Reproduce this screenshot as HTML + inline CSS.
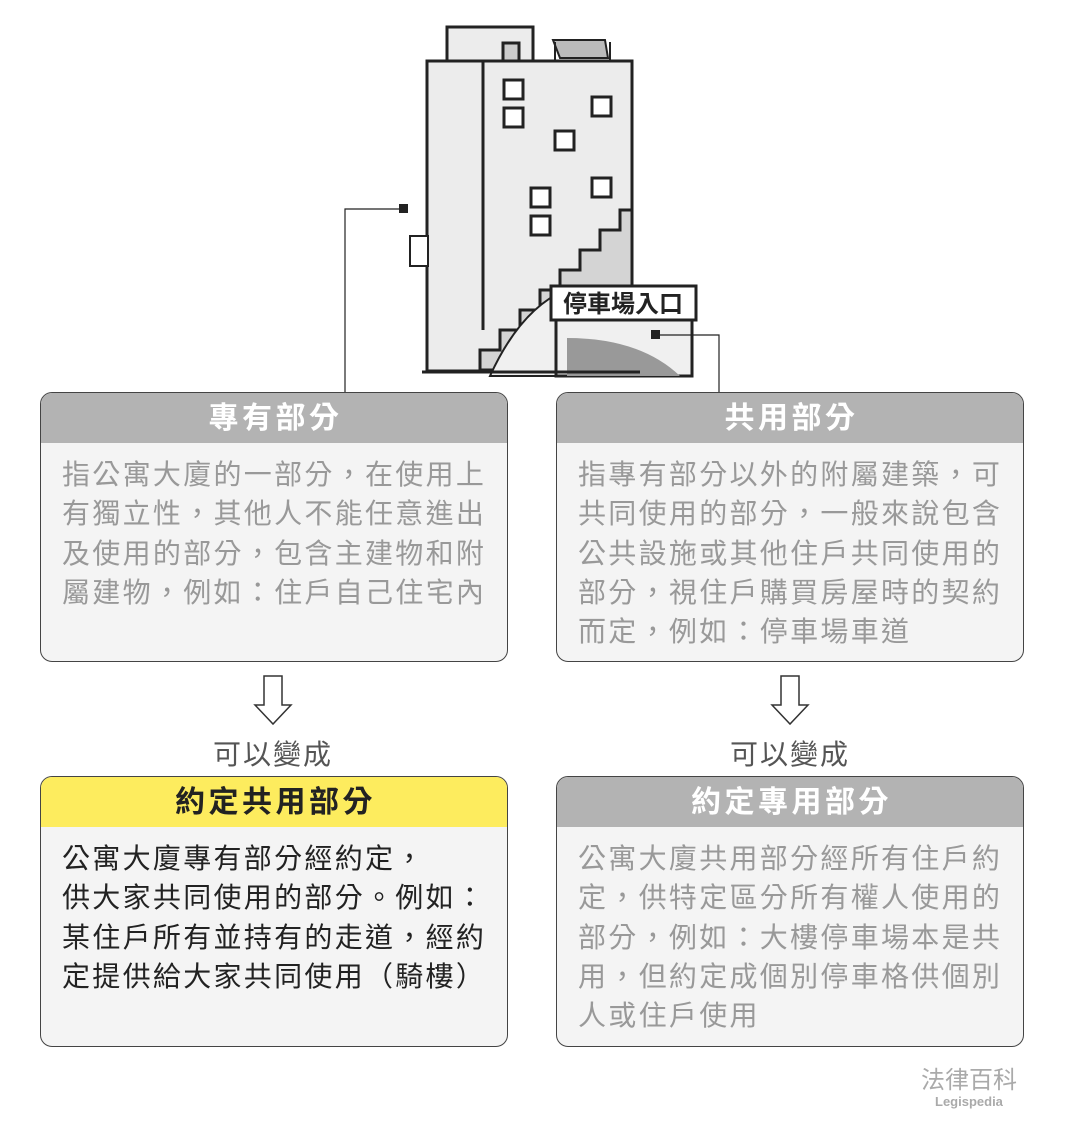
<!DOCTYPE html>
<html><head><meta charset="utf-8"><style>
body{margin:0;width:1065px;height:1125px;background:#fff;position:relative;font-family:"Liberation Sans","Noto Sans CJK TC",sans-serif;overflow:hidden}
.box{position:absolute;width:468px;background:#f4f4f4;border:1.5px solid #444;border-radius:12px;overflow:hidden;box-sizing:border-box}
.hd{height:50px;background:#b3b3b3;color:#fff;font-weight:bold;font-size:30px;letter-spacing:3.5px;text-indent:3px;text-align:center;line-height:52px}
.hd.y{background:#fdec5e;color:#222}
.tx{padding:12px 0 0 21px;font-size:28px;line-height:39.3px;color:#999;letter-spacing:2.3px;white-space:nowrap}
.tx.d{color:#222}
.lbl{position:absolute;font-size:28px;color:#555;letter-spacing:2px}
</style></head><body>
<svg width="1065" height="1125" style="position:absolute;left:0;top:0">
<g stroke="#222" stroke-width="3" fill="#ececec">
<rect x="447" y="27" width="86" height="34"/>
<rect x="503" y="43" width="16" height="18" fill="#ccc"/>
<rect x="427" y="61" width="205" height="310"/>
<line x1="483" y1="61" x2="483" y2="330"/>
<rect x="410" y="236" width="18" height="30" fill="#fff" stroke-width="2"/>
</g>
<path d="M553 40 L605 40 L608 58 L560 58 Z" fill="#bbb" stroke="#222" stroke-width="2"/>
<line x1="555" y1="42" x2="555" y2="61" stroke="#222" stroke-width="2"/>
<line x1="610" y1="42" x2="610" y2="61" stroke="#222" stroke-width="2"/>
<path d="M632 210 L620 210 L620 230 L600 230 L600 250 L580 250 L580 270 L560 270 L560 290 L540 290 L540 310 L520 310 L520 330 L500 330 L500 350 L480 350 L480 370 L632 370 Z" fill="#d4d4d4" stroke="#222" stroke-width="3"/>
<path d="M490 376 Q520 310 565 290 L690 300 L690 376 Z" fill="#f0f0f0" stroke="#222" stroke-width="2"/>
<rect x="556" y="318" width="136" height="58" fill="#f0f0f0" stroke="#222" stroke-width="3"/>
<path d="M567 376 L567 338 Q640 338 680 376 Z" fill="#999"/>
<line x1="422" y1="372" x2="640" y2="372" stroke="#222" stroke-width="3"/>
<g fill="#fff" stroke="#222" stroke-width="3">
<rect x="504" y="80" width="19" height="19"/><rect x="504" y="108" width="19" height="19"/>
<rect x="592" y="97" width="19" height="19"/><rect x="555" y="131" width="19" height="19"/>
<rect x="592" y="178" width="19" height="19"/><rect x="531" y="188" width="19" height="19"/>
<rect x="531" y="216" width="19" height="19"/>
</g>
<rect x="551" y="286" width="145" height="34" fill="#fff" stroke="#222" stroke-width="3"/>
<text x="623" y="312" text-anchor="middle" font-size="24" font-weight="bold" fill="#222" font-family="Liberation Sans,Noto Sans CJK TC,sans-serif">停車場入口</text>
<polyline points="345,392 345,209 404,209" fill="none" stroke="#222" stroke-width="1.2"/>
<rect x="399" y="204" width="9" height="9" fill="#222"/>
<polyline points="719,392 719,335 660,335" fill="none" stroke="#222" stroke-width="1.2"/>
<rect x="651" y="330" width="9" height="9" fill="#222"/>
<g fill="#fff" stroke="#333" stroke-width="1.5">
<path d="M264 676 L282 676 L282 705 L291 705 L273 724 L255 705 L264 705 Z"/>
<path d="M781 676 L799 676 L799 705 L808 705 L790 724 L772 705 L781 705 Z"/>
</g>
</svg>
<div class="box" style="left:40px;top:392px;height:270px"><div class="hd">專有部分</div><div class="tx">指公寓大廈的一部分，在使用上<br>有獨立性，其他人不能任意進出<br>及使用的部分，包含主建物和附<br>屬建物，例如：住戶自己住宅內</div></div>
<div class="box" style="left:556px;top:392px;height:270px"><div class="hd">共用部分</div><div class="tx">指專有部分以外的附屬建築，可<br>共同使用的部分，一般來說包含<br>公共設施或其他住戶共同使用的<br>部分，視住戶購買房屋時的契約<br>而定，例如：停車場車道</div></div>
<div class="lbl" style="left:213px;top:733px">可以變成</div>
<div class="lbl" style="left:730px;top:733px">可以變成</div>
<div class="box" style="left:40px;top:776px;height:271px"><div class="hd y">約定共用部分</div><div class="tx d">公寓大廈專有部分經約定，<br>供大家共同使用的部分。例如：<br>某住戶所有並持有的走道，經約<br>定提供給大家共同使用（騎樓）</div></div>
<div class="box" style="left:556px;top:776px;height:271px"><div class="hd">約定專用部分</div><div class="tx">公寓大廈共用部分經所有住戶約<br>定，供特定區分所有權人使用的<br>部分，例如：大樓停車場本是共<br>用，但約定成個別停車格供個別<br>人或住戶使用</div></div>
<div style="position:absolute;left:921px;top:1060px;font-size:24px;color:#aaa">法律百科</div>
<div style="position:absolute;left:935px;top:1094px;font-size:13px;color:#aaa;font-weight:bold">Legispedia</div>
</body></html>
